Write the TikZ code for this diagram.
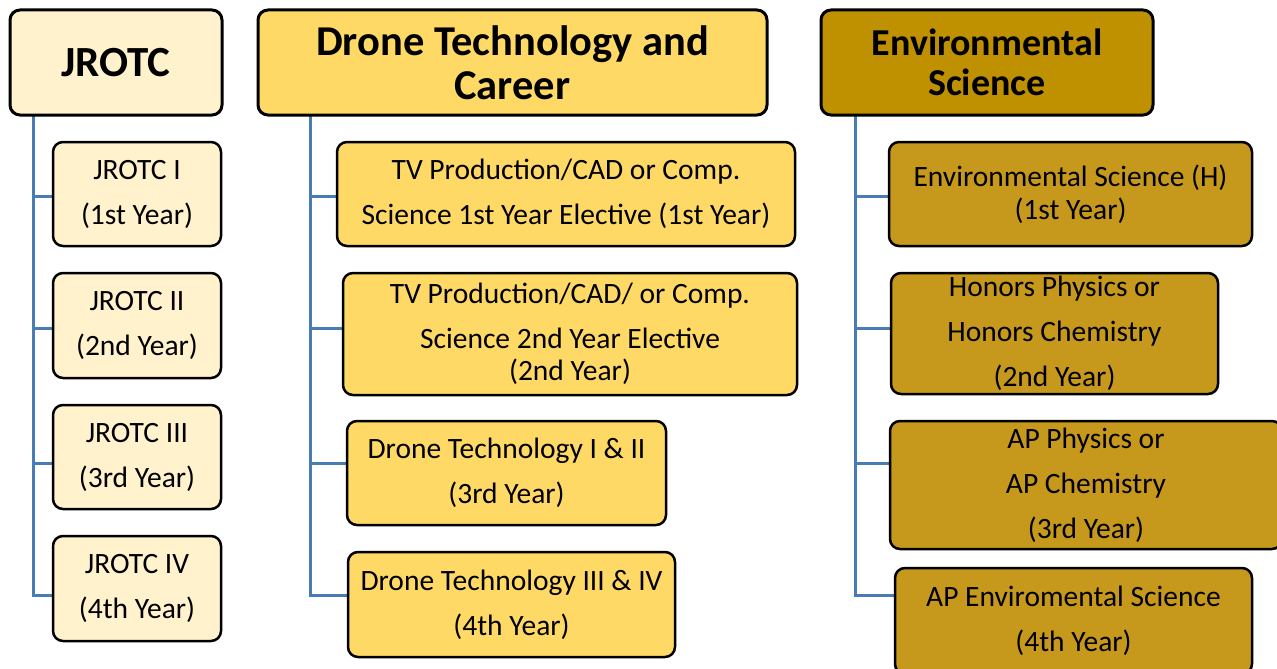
\documentclass[tikz,border=0pt]{standalone}
\usepackage{fontspec}
\setmainfont{Carlito}
\definecolor{jl}{RGB}{255,242,204}
\definecolor{dr}{RGB}{255,217,102}
\definecolor{eh}{RGB}{191,144,0}
\definecolor{ec}{RGB}{198,153,28}
\definecolor{ln}{RGB}{72,124,180}
\begin{document}
\begin{tikzpicture}[x=1pt,y=-1pt,
  hdr/.style={draw=black,line width=3pt,rounded corners=10pt,inner sep=0pt,align=center},
  kid/.style={draw=black,line width=2.5pt,rounded corners=10pt,inner sep=0pt,align=center,
    font=\fontsize{29.5}{45}\selectfont},
  conn/.style={draw=ln,line width=3pt}]
\useasboundingbox (0,0) rectangle (1277,669);
\clip (0,0) rectangle (1277,669);
\coordinate (t1) at (33,115);
\coordinate (t2) at (310,115);
\coordinate (t3) at (855,115);
\draw[conn] (t1) -- (t1 |- 0,596.5);
\draw[conn] (t2) -- (t2 |- 0,596.5);
\draw[conn] (t3) -- (t3 |- 0,596.5);
\foreach \yy in {196,328,463,595}{
  \draw[conn] (t1 |- 0,\yy) -- (60,\yy);
  \draw[conn] (t2 |- 0,\yy) -- (355,\yy);
  \draw[conn] (t3 |- 0,\yy) -- (900,\yy);
}
% column 1
\node[hdr,fill=jl,minimum width=212pt,minimum height=105pt,font=\fontsize{43}{50}\selectfont\bfseries] (h1) at (116,62.5) {JROTC};
\node[kid,fill=jl,minimum width=168pt,minimum height=104pt] (j1) at (137,194) {JROTC I\\(1st Year)};
\node[kid,fill=jl,minimum width=168pt,minimum height=105pt] (j2) at (137,325.5) {JROTC II\\(2nd Year)};
\node[kid,fill=jl,minimum width=168pt,minimum height=104pt] (j3) at (137,457) {JROTC III\\(3rd Year)};
\node[kid,fill=jl,minimum width=168pt,minimum height=105pt] (j4) at (137,588.5) {JROTC IV\\(4th Year)};
% column 2
\node[hdr,fill=dr,minimum width=509pt,minimum height=105pt,font=\fontsize{42.5}{44}\selectfont\bfseries] (h2) at (512.5,62.5) {Drone Technology and\\Career};
\node[kid,fill=dr,minimum width=458pt,minimum height=104pt] (d1) at (566,194) {TV Production/CAD or Comp.\\Science 1st Year Elective (1st Year)};
\node[kid,fill=dr,minimum width=454pt,minimum height=122pt] (d2) at (570,334) {TV Production/CAD/ or Comp.\\Science 2nd Year Elective\\[-13pt](2nd Year)};
\node[kid,fill=dr,minimum width=319pt,minimum height=104pt] (d3) at (506.5,473) {Drone Technology I \& II\\(3rd Year)};
\node[kid,fill=dr,minimum width=327pt,minimum height=105pt] (d4) at (511.5,604.5) {Drone Technology III \& IV\\(4th Year)};
% column 3
\node[hdr,fill=eh,minimum width=332pt,minimum height=105pt,font=\fontsize{38}{40}\selectfont\bfseries] (h3) at (987,62.5) {Environmental\\Science};
\node[kid,fill=ec,minimum width=363pt,minimum height=104pt] (e1) at (1070.5,194) {Environmental Science (H)\\[-12pt](1st Year)};
\node[kid,fill=ec,minimum width=327pt,minimum height=121pt] (e2) at (1054.5,333.5) {Honors Physics or\\Honors Chemistry\\(2nd Year)};
\node[kid,fill=ec,minimum width=392pt,minimum height=128pt] (e3) at (1086,485) {AP Physics or\\AP Chemistry\\(3rd Year)};
\node[kid,fill=ec,minimum width=357pt,minimum height=106pt] (e4) at (1073.5,621) {AP Enviromental Science\\(4th Year)};
\end{tikzpicture}
\end{document}
